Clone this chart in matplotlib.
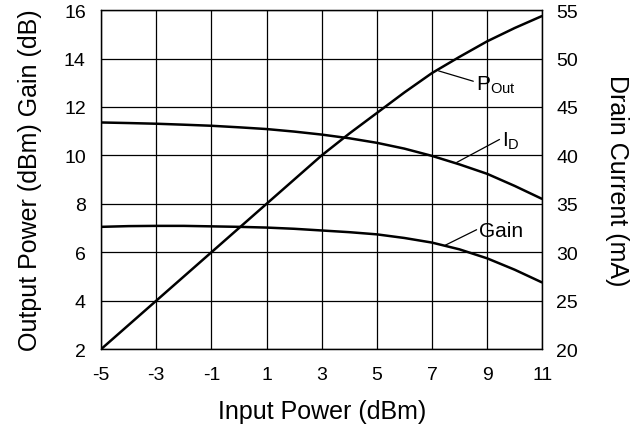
import matplotlib
matplotlib.use('Agg')
import matplotlib.pyplot as plt

plt.rcParams['font.family'] = ['Liberation Sans', 'DejaVu Sans']
plt.rcParams['mathtext.fontset'] = 'custom'
plt.rcParams['mathtext.rm'] = 'Liberation Sans'
plt.rcParams['mathtext.it'] = 'Liberation Sans'

# input power (dBm)
p_in = [-5, -4, -3, -2, -1, 0, 1, 2, 3, 4, 5, 6, 7, 8, 9, 10, 11]
# output power (dBm), left axis
p_out = [2, 3, 4, 5, 6, 7, 8, 9, 10, 10.9, 11.75, 12.6, 13.4, 14.07, 14.71, 15.26, 15.76]
# gain (dB), left axis
gain = [7.05, 7.08, 7.09, 7.09, 7.07, 7.05, 7.02, 6.97, 6.9, 6.83, 6.74, 6.59, 6.4, 6.12, 5.75, 5.28, 4.75]
# drain current (mA), right axis
i_d = [43.4, 43.34, 43.27, 43.17, 43.06, 42.9, 42.72, 42.46, 42.15, 41.77, 41.3, 40.7, 39.95, 39.07, 38.1, 36.85, 35.5]

x_ticks = [-5, -3, -1, 1, 3, 5, 7, 9, 11]
left_ticks = [2, 4, 6, 8, 10, 12, 14, 16]
right_ticks = [20, 25, 30, 35, 40, 45, 50, 55]

fig = plt.figure(figsize=(6.44, 4.27), dpi=100)
ax = fig.add_axes([0.157, 0.180, 0.685, 0.794])
ax2 = ax.twinx()

ax.plot(p_in, p_out, color='black', lw=1.8, solid_capstyle='butt')
ax.plot(p_in, gain, color='black', lw=1.8, solid_capstyle='butt')
ax2.plot(p_in, i_d, color='black', lw=1.8, solid_capstyle='butt')

ax.set_xlim(-5, 11)
ax.set_ylim(2, 16)
ax2.set_ylim(20, 55)
ax.set_xticks(x_ticks)
ax.set_xticklabels([str(v) for v in x_ticks])
ax.set_yticks(left_ticks)
ax2.set_yticks(right_ticks)
ax.grid(True, color='black', lw=0.9)
ax.set_axisbelow(True)

for a in (ax, ax2):
    for s in a.spines.values():
        s.set_linewidth(0.9)
ax.tick_params(axis='x', length=0, pad=12, labelsize=14)
ax.tick_params(axis='y', length=0, pad=11, labelsize=14)
ax2.tick_params(axis='y', length=0, pad=10, labelsize=14)

ax.set_xlabel('Input Power (dBm)', fontsize=18, labelpad=12)
ax.set_ylabel('Output Power (dBm) Gain (dB)', fontsize=18, labelpad=16)
ax2.set_ylabel('Drain Current (mA)', fontsize=18, rotation=-90, labelpad=37)

arrow = dict(arrowstyle='-', color='black', lw=0.9, shrinkA=0, shrinkB=0)
ax.annotate(r'P$_{\mathrm{Out}}$', xy=(7.24, 13.49), xytext=(8.6, 12.94),
            fontsize=15, va='center', ha='left', arrowprops=dict(arrow, relpos=(0, 0.6)))
ax.annotate('Gain', xy=(7.48, 6.29), xytext=(8.72, 6.91),
            fontsize=15, va='center', ha='left', arrowprops=dict(arrow, relpos=(0, 0.6)))
ax2.annotate(r'I$_{\mathrm{D}}$', xy=(7.9, 39.28), xytext=(9.55, 41.58),
             fontsize=15, va='center', ha='left', arrowprops=dict(arrow, relpos=(0, 0.6)))

fig.savefig('out.png', dpi=100)
